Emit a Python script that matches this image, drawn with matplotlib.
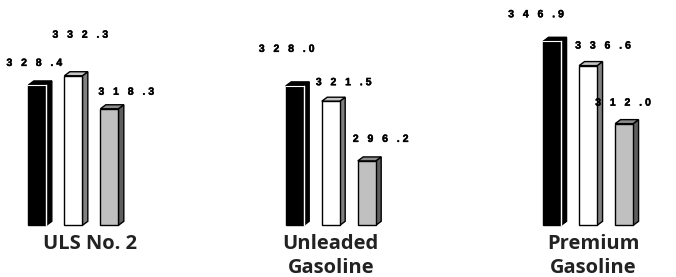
import matplotlib
matplotlib.use("Agg")
import matplotlib.pyplot as plt
from matplotlib.patches import Polygon
import matplotlib.patheffects as pe

# ---- data ----
categories = ["ULS No. 2", "Unleaded\nGasoline", "Premium\nGasoline"]
series_a = [328.4, 328.0, 346.9]   # black bars
series_b = [332.3, 321.5, 336.6]   # white bars
series_c = [318.3, 296.2, 312.0]   # gray bars

# ---- style ----
base = 268.9
group_step = 7.15
bar_w = 0.5
depth_x = 0.15
depth_y = 1.7
styles = [
    dict(front="#000000", side="#000000", top="#000000", edge="#ffffff"),
    dict(front="#ffffff", side="#808080", top="#c4c4c4", edge="#000000"),
    dict(front="#c0c0c0", side="#5e5e5e", top="#8c8c8c", edge="#000000"),
]
# label offsets (pixels) from the bar's top-left corner
label_offsets = [
    [(-22, 22), (-12, 41), (-2, 17)],
    [(-27, 37), (-6, 19), (-5, 22)],
    [(-35, 27), (-4, 20), (-20, 21)],
]
cat_dx = [0.45, 0.0, 0.15]

def fmt(v):
    s = f"{v:.1f}"
    ip, dp = s.split(".")
    return "   ".join(ip) + "   . " + dp

fig = plt.figure(figsize=(6.76, 2.77), dpi=100)
ax = fig.add_axes([0, 0, 1, 1])
ax.set_xlim(-2.04, 16.74)
ax.set_ylim(247.0, 364.4)
ax.axis("off")

series = [series_a, series_b, series_c]
for g in range(len(categories)):
    for j, ser in enumerate(series):
        v = ser[g]
        st = styles[j]
        xc = g * group_step + (j - 1) * 1.0
        x0 = xc - bar_w / 2
        x1 = xc + bar_w / 2
        lw = 1.0
        ec = st["edge"] if j else "#000000"
        ax.bar(xc, v - base, bottom=base, width=bar_w, color=st["front"],
               edgecolor=ec, linewidth=lw, zorder=3)
        side = Polygon([(x1, base), (x1 + depth_x, base + depth_y),
                        (x1 + depth_x, v + depth_y), (x1, v)], closed=True,
                       facecolor=st["side"], edgecolor=ec, linewidth=lw, zorder=2)
        top = Polygon([(x0, v), (x0 + depth_x, v + depth_y),
                       (x1 + depth_x, v + depth_y), (x1, v)], closed=True,
                      facecolor=st["top"], edgecolor=ec, linewidth=lw, zorder=2)
        ax.add_patch(side)
        ax.add_patch(top)
        if j == 0:
            ax.plot([x1, x1], [base, v], color="#ffffff", lw=1.0, zorder=4)
            ax.plot([x0, x1], [v, v], color="#ffffff", lw=0.8, zorder=4)
        ox, oy = label_offsets[g][j]
        ax.annotate(fmt(v), xy=(x0, v), xytext=(ox, oy), textcoords="offset pixels",
                    ha="left", va="center", fontsize=7.6, fontweight="bold",
                    family="Liberation Sans", color="#000000", zorder=5,
                    path_effects=[pe.withStroke(linewidth=0.3, foreground="#000000")])
    ax.text(g * group_step + cat_dx[g], base - 3.6, categories[g], ha="center", va="top",
            fontsize=14.5, fontweight="bold", family="Open Sans", color="#222222",
            linespacing=1.25)

fig.savefig("out.png", dpi=100)
